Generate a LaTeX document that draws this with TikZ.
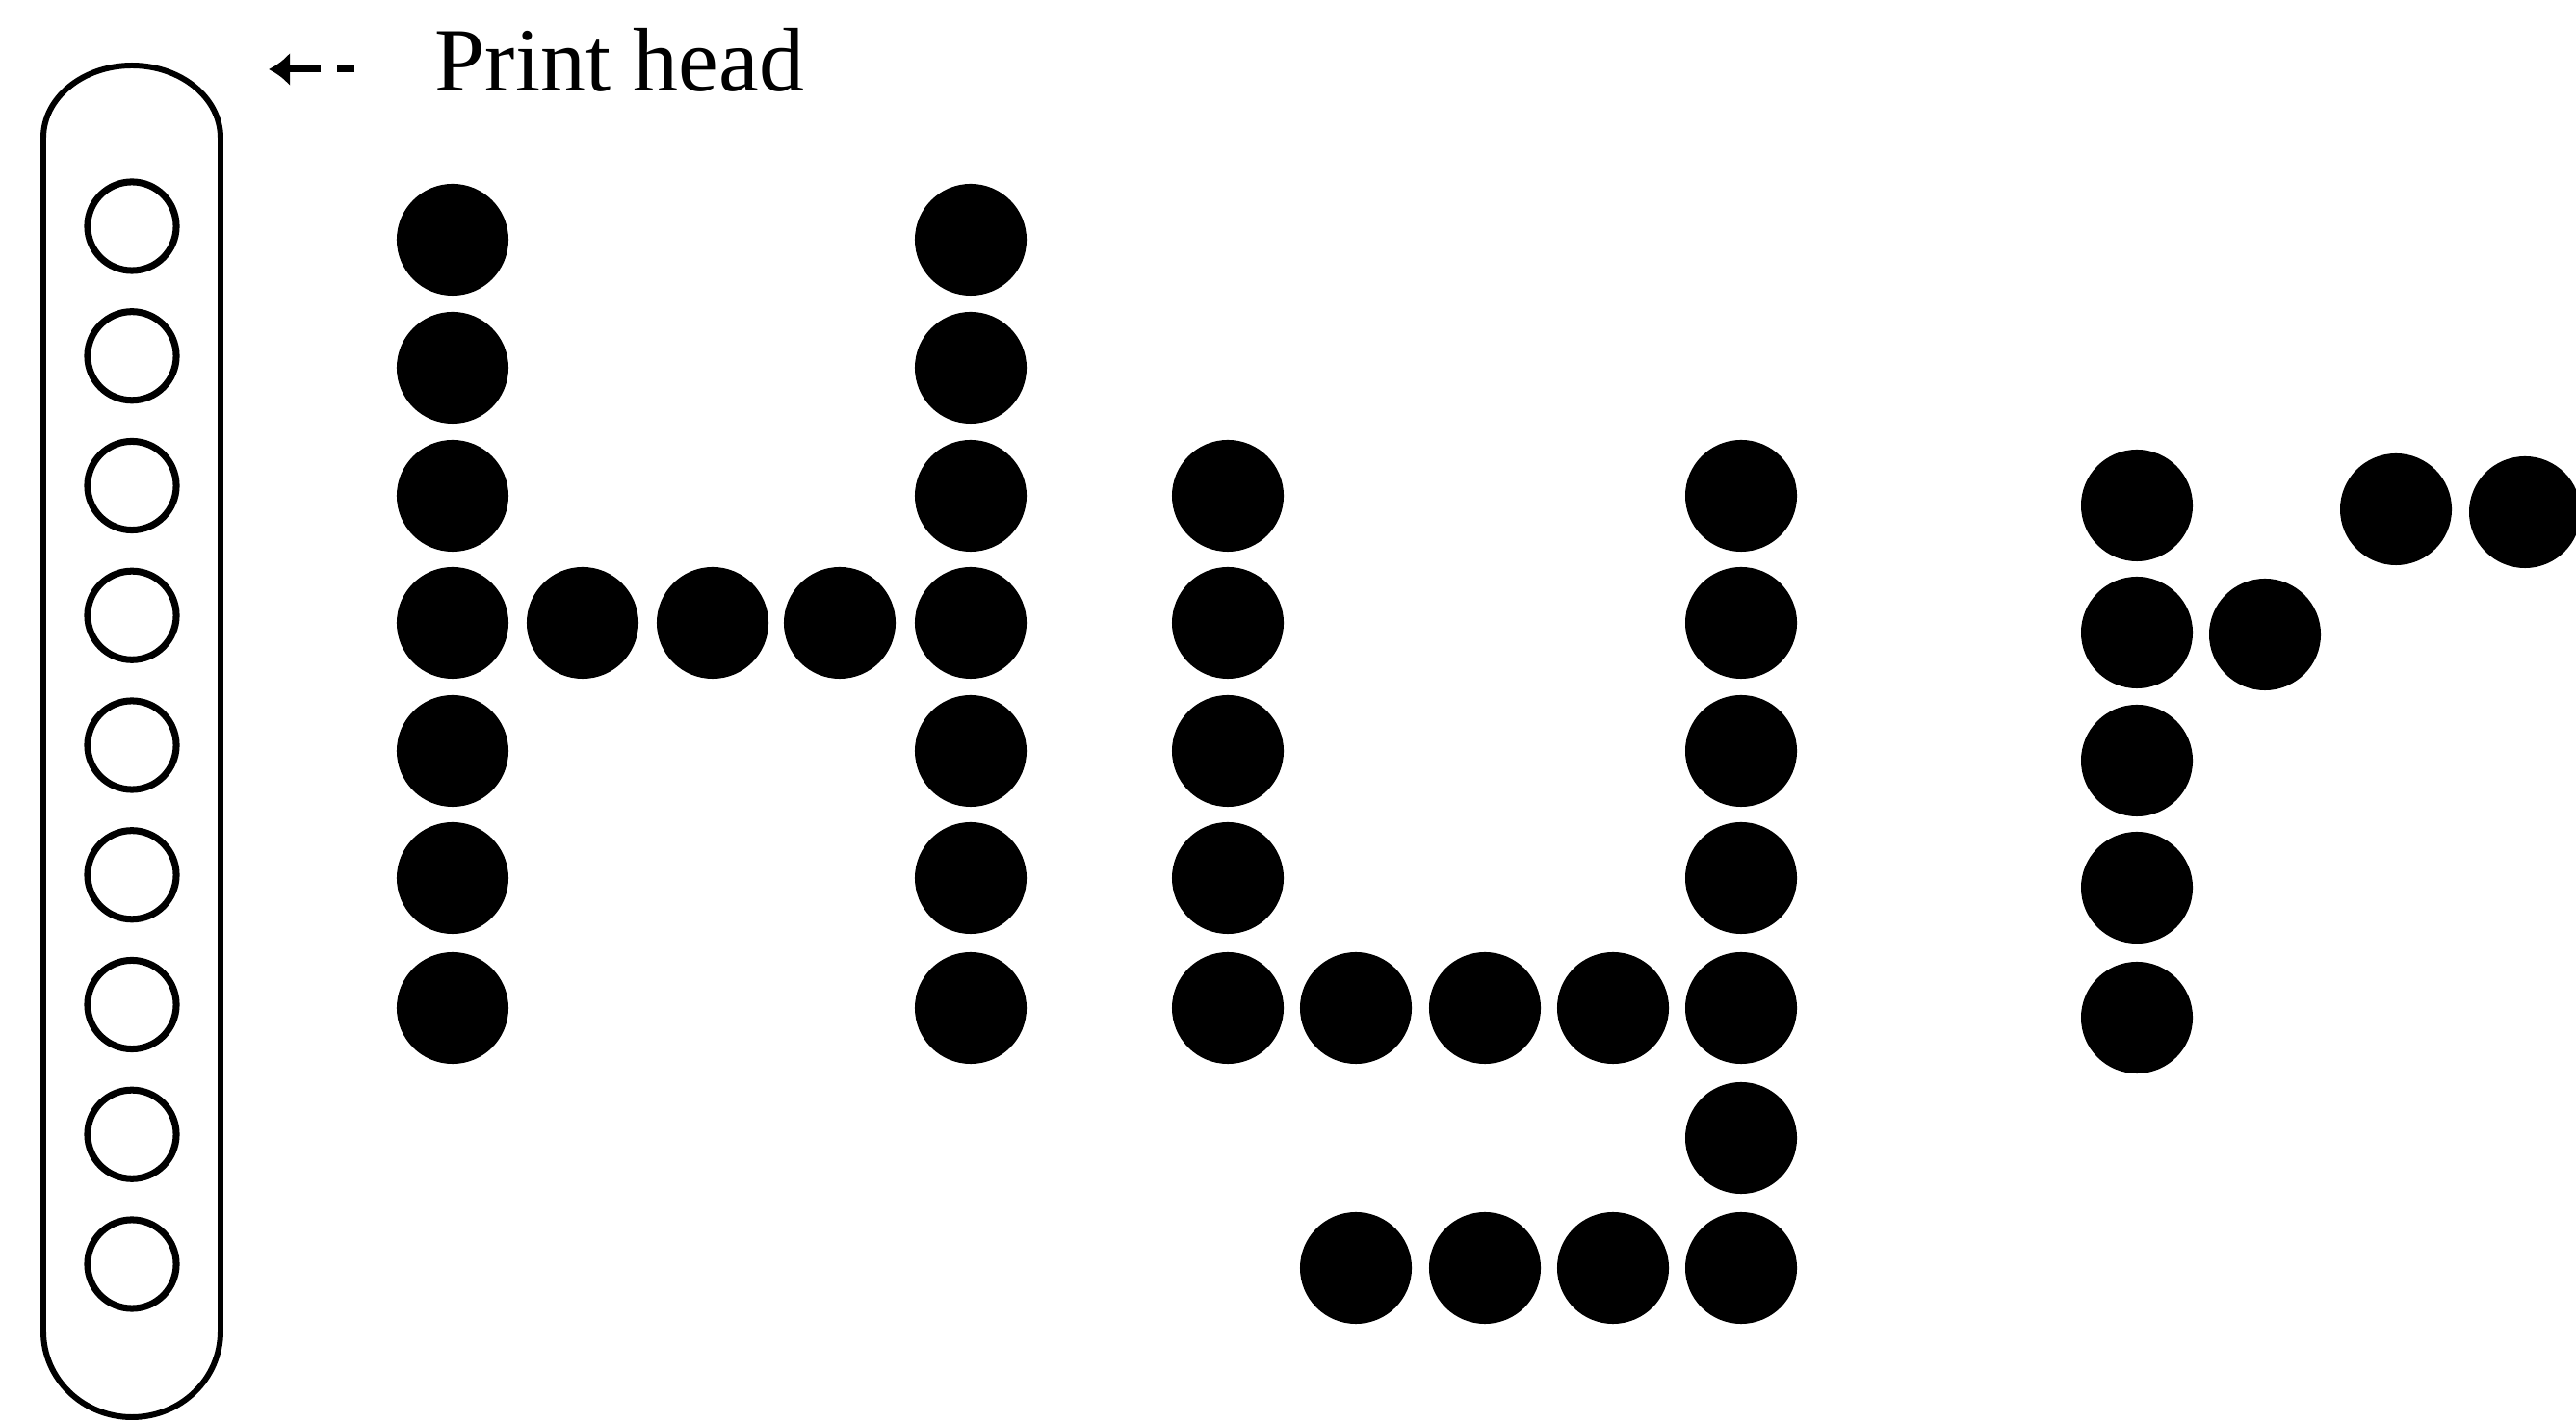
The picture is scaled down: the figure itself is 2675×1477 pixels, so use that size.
\documentclass[tikz,border=0pt]{standalone}
\usepackage{fontspec}
\setmainfont{Liberation Serif}
\usetikzlibrary{arrows.meta}
\begin{document}
\begin{tikzpicture}[x=0.01cm, y=-0.01cm,
  pin/.style={circle, draw=black, line width=2pt, minimum size=26.2pt, inner sep=0pt},
  inkdot/.style={circle, fill=black, draw=none, minimum size=33pt, inner sep=0pt},
  headline/.style={line width=1.7pt},
  pointer/.style={line width=2pt, dash pattern=on 5.1pt off 4.8pt on 20pt,
    -{Latex[length=6.3pt, width=10pt]}}]
\useasboundingbox (0,0) rectangle (2675,1477);
% print head capsule
\draw[headline] (45,1383) -- (45,143)
  arc[start angle=180, end angle=360, x radius=92, y radius=75]
  -- (229,1383)
  arc[start angle=0, end angle=180, x radius=92, y radius=89] -- cycle;
% pins
\foreach \i in {0,...,8}{
  \node[pin] (pin\i) at (137,{235+134.75*\i}) {};
}
% label and pointer
\node[anchor=base west, inner sep=0pt, font=\fontsize{26.7}{30}\selectfont] (label) at (451,95) {Print head};
\coordinate (ptrS) at (368,72);
\coordinate (ptrE) at (279,72);
\draw[pointer] (ptrS) -- (ptrE);
% rows
\def\rowy#1{\ifcase#1 249\or 382\or 515\or 647\or 780\or 912\or 1047\or 1182\or 1317\fi}
% H
\foreach \r in {0,...,6}{
  \node[inkdot] (hl\r) at (470,\rowy{\r}) {};
  \node[inkdot] (hr\r) at (1008,\rowy{\r}) {};
}
\foreach \x [count=\k] in {605,740,872}{
  \node[inkdot] (hc\k) at (\x,\rowy{3}) {};
}
% y
\foreach \r in {2,...,6}{
  \node[inkdot] (yl\r) at (1275,\rowy{\r}) {};
}
\foreach \r in {2,...,8}{
  \node[inkdot] (yr\r) at (1808,\rowy{\r}) {};
}
\foreach \x [count=\k] in {1408,1542,1675}{
  \node[inkdot] (yb\k) at (\x,\rowy{6}) {};
  \node[inkdot] (yd\k) at (\x,\rowy{8}) {};
}
% r
\foreach \r in {2,...,6}{
  \node[inkdot] (rc\r) at (2219,{\rowy{\r}+10}) {};
}
\node[inkdot] (rs) at (2352,\rowy{3}+12) {};
\node[inkdot] (rt1) at (2488,529) {};
\node[inkdot] (rt2) at (2622,532) {};
\end{tikzpicture}
\end{document}
